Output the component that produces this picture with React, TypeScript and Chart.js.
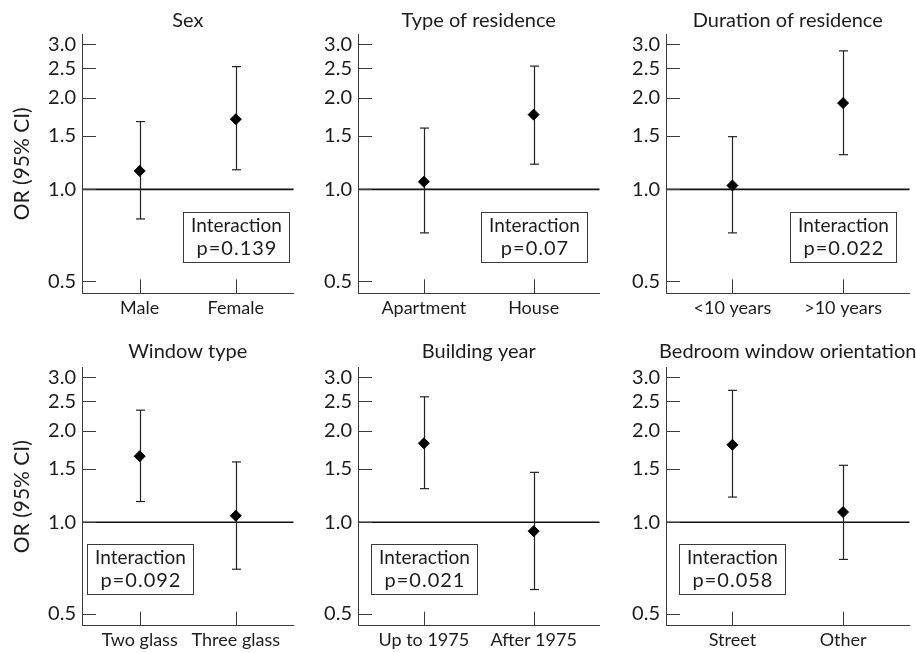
import React, { useEffect, useRef } from 'react';
import { Chart, registerables } from 'chart.js';

Chart.register(...registerables);

// ---------- data ----------
const yTickValues = [0.5, 1.0, 1.5, 2.0, 2.5, 3.0];

const sexCategories = ['Male', 'Female'];
const sexOR = [1.15, 1.70];
const sexLow = [0.80, 1.16];
const sexHigh = [1.67, 2.53];
const sexP = 'p=0.139';

const residenceCategories = ['Apartment', 'House'];
const residenceOR = [1.06, 1.76];
const residenceLow = [0.72, 1.21];
const residenceHigh = [1.59, 2.54];
const residenceP = 'p=0.07';

const durationCategories = ['<10 years', '>10 years'];
const durationOR = [1.03, 1.92];
const durationLow = [0.72, 1.30];
const durationHigh = [1.49, 2.85];
const durationP = 'p=0.022';

const windowCategories = ['Two glass', 'Three glass'];
const windowOR = [1.65, 1.05];
const windowLow = [1.17, 0.70];
const windowHigh = [2.34, 1.58];
const windowP = 'p=0.092';

const buildingCategories = ['Up to 1975', 'After 1975'];
const buildingOR = [1.82, 0.934];
const buildingLow = [1.29, 0.60];
const buildingHigh = [2.59, 1.46];
const buildingP = 'p=0.021';

const bedroomCategories = ['Street', 'Other'];
const bedroomOR = [1.80, 1.08];
const bedroomLow = [1.21, 0.754];
const bedroomHigh = [2.72, 1.54];
const bedroomP = 'p=0.058';

// ---------- layout ----------
const FONT = 'Lato, "Open Sans", sans-serif';
const TEXT = '#1c1c1c';
const AXIS = '#3a3a3a';

const COLS = [
  { left: 0, width: 300, axisW: 82, padR: 5 },
  { left: 300, width: 306, axisW: 58, padR: 3 },
  { left: 606, width: 310, axisW: 60, padR: 6 },
];
const ROWS = [
  { top: 0, height: 330, chartTop: 34.3, titleY: 21, xAxisH: 36.7 },
  { top: 330, height: 323, chartTop: 37.7, titleY: 21.5, xAxisH: 27.3 },
];

type PanelDef = {
  title: string;
  categories: string[];
  or: number[];
  low: number[];
  high: number[];
  p: string;
  boxAt: number;
  col: number;
  row: number;
};

const PANELS: PanelDef[] = [
  { title: 'Sex', categories: sexCategories, or: sexOR, low: sexLow, high: sexHigh, p: sexP, boxAt: 1, col: 0, row: 0 },
  { title: 'Type of residence', categories: residenceCategories, or: residenceOR, low: residenceLow, high: residenceHigh, p: residenceP, boxAt: 1, col: 1, row: 0 },
  { title: 'Duration of residence', categories: durationCategories, or: durationOR, low: durationLow, high: durationHigh, p: durationP, boxAt: 1, col: 2, row: 0 },
  { title: 'Window type', categories: windowCategories, or: windowOR, low: windowLow, high: windowHigh, p: windowP, boxAt: 0, col: 0, row: 1 },
  { title: 'Building year', categories: buildingCategories, or: buildingOR, low: buildingLow, high: buildingHigh, p: buildingP, boxAt: 0, col: 1, row: 1 },
  { title: 'Bedroom window orientation', categories: bedroomCategories, or: bedroomOR, low: bedroomLow, high: bedroomHigh, p: bedroomP, boxAt: 0, col: 2, row: 1 },
];

function makePlugin(panel: PanelDef, titleY: number) {
  return {
    id: 'forest',
    beforeDatasetsDraw(chart: any) {
      const { ctx, chartArea } = chart;
      const x = chart.scales.x;
      const y = chart.scales.y;
      const line = (x1: number, y1: number, x2: number, y2: number) => {
        ctx.beginPath();
        ctx.moveTo(x1, y1);
        ctx.lineTo(x2, y2);
        ctx.stroke();
      };
      ctx.save();
      // panel title centred over the plot area
      ctx.fillStyle = TEXT;
      ctx.textAlign = 'center';
      ctx.textBaseline = 'middle';
      ctx.font = `20px ${FONT}`;
      ctx.fillText(panel.title, (chartArea.left + chartArea.right) / 2, titleY);
      // reference line at OR = 1
      ctx.strokeStyle = '#111';
      ctx.lineWidth = 1.6;
      const y1 = y.getPixelForValue(1);
      line(chartArea.left, y1, chartArea.right, y1);
      // inward y tick marks
      ctx.strokeStyle = AXIS;
      ctx.lineWidth = 1;
      yTickValues.forEach((v) => {
        const py = Math.round(y.getPixelForValue(v)) + 0.5;
        line(chartArea.left, py, chartArea.left + 14, py);
      });
      // inward x tick marks
      panel.categories.forEach((_, i) => {
        const px = Math.round(x.getPixelForValue(i)) + 0.5;
        line(px, chartArea.bottom, px, chartArea.bottom - 14);
      });
      // error bars
      ctx.strokeStyle = '#222';
      ctx.lineWidth = 1.2;
      panel.categories.forEach((_, i) => {
        const px = Math.round(x.getPixelForValue(i)) + 0.5;
        const pl = y.getPixelForValue(panel.low[i]);
        const ph = y.getPixelForValue(panel.high[i]);
        line(px, pl, px, ph);
        line(px - 4.5, pl, px + 4.5, pl);
        line(px - 4.5, ph, px + 4.5, ph);
      });
      // annotation box
      const bw = 106;
      const bh = 50;
      const cx = x.getPixelForValue(panel.boxAt);
      const cy = y.getPixelForValue(0.7);
      const bx = Math.round(cx - bw / 2) + 0.5;
      const by = Math.round(cy - bh / 2) + 0.5;
      ctx.fillStyle = '#fff';
      ctx.fillRect(bx, by, bw, bh);
      ctx.strokeStyle = AXIS;
      ctx.lineWidth = 1;
      ctx.strokeRect(bx, by, bw, bh);
      ctx.fillStyle = TEXT;
      ctx.font = `19px ${FONT}`;
      ctx.fillText('Interaction', bx + bw / 2, by + 13.5);
      ctx.font = `20px ${FONT}`;
      (ctx as any).letterSpacing = '1px';
      ctx.fillText(panel.p, bx + bw / 2 + 0.5, by + 36.5);
      (ctx as any).letterSpacing = '0px';
      ctx.restore();
    },
  };
}

function Panel({ panel }: { panel: PanelDef }) {
  const ref = useRef<HTMLCanvasElement | null>(null);
  const col = COLS[panel.col];
  const row = ROWS[panel.row];

  useEffect(() => {
    if (!ref.current) return;
    const f = (size: number) => ({ family: FONT, size, weight: 'normal' as const });
    const chart = new Chart(ref.current, {
      type: 'scatter',
      data: {
        datasets: [
          {
            data: panel.or.map((v, i) => ({ x: i, y: v })),
            pointStyle: 'rectRot',
            pointRadius: 5.5,
            pointBorderWidth: 1,
            pointBackgroundColor: '#000',
            pointBorderColor: '#000',
            showLine: false,
          },
        ],
      },
      options: {
        animation: false,
        responsive: false,
        devicePixelRatio: 1,
        events: [],
        layout: { padding: { left: 0, right: col.padR, top: row.chartTop, bottom: 0 } },
        plugins: {
          legend: { display: false },
          tooltip: { enabled: false },
          title: { display: false },
        },
        scales: {
          x: {
            type: 'linear',
            min: -0.6,
            max: 1.6,
            grid: { display: false, drawTicks: false },
            border: { display: true, color: AXIS, width: 1 },
            afterBuildTicks: (s: any) => {
              s.ticks = panel.categories.map((_, i) => ({ value: i }));
            },
            afterFit: (s: any) => {
              s.height = row.xAxisH;
            },
            ticks: {
              autoSkip: false,
              maxRotation: 0,
              padding: 4,
              color: TEXT,
              font: f(18),
              callback: (v: any) => panel.categories[Number(v)] ?? '',
            },
          },
          y: {
            type: 'logarithmic',
            min: 0.456,
            max: 3.23,
            grid: { display: false, drawTicks: false },
            border: { display: true, color: AXIS, width: 1 },
            afterBuildTicks: (s: any) => {
              s.ticks = yTickValues.map((v) => ({ value: v }));
            },
            afterFit: (s: any) => {
              s.width = col.axisW;
            },
            title: {
              display: panel.col === 0,
              text: 'OR (95% CI)',
              color: TEXT,
              font: f(21),
              padding: { top: 10, bottom: 0 },
            },
            ticks: {
              autoSkip: false,
              padding: 6,
              color: TEXT,
              font: f(20),
              callback: (v: any) => Number(v).toFixed(1),
            },
          },
        },
      } as any,
      plugins: [makePlugin(panel, row.titleY)],
    });
    return () => chart.destroy();
  }, [panel]);

  return (
    <canvas
      ref={ref}
      width={col.width}
      height={row.height}
      style={{ position: 'absolute', left: col.left, top: row.top, width: col.width, height: row.height }}
    />
  );
}

export default function App() {
  return (
    <div
      style={{
        position: 'fixed',
        left: 0,
        top: 0,
        width: 916,
        height: 653,
        background: '#fff',
        overflow: 'hidden',
      }}
    >
      {PANELS.map((p, i) => (
        <Panel key={i} panel={p} />
      ))}
    </div>
  );
}
